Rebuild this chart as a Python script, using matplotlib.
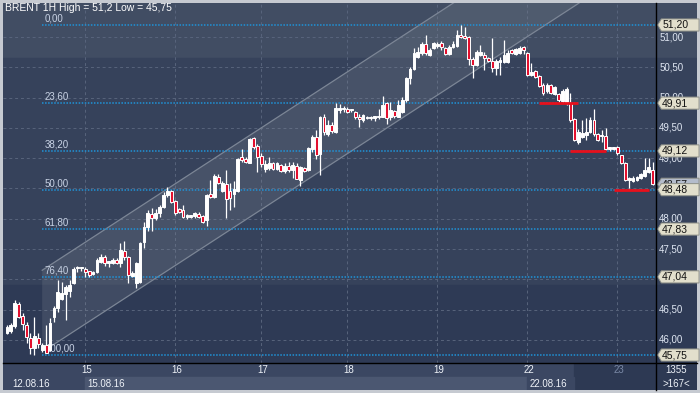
import matplotlib
matplotlib.use("Agg")
import matplotlib.pyplot as plt
from matplotlib.patches import Rectangle, Polygon
from matplotlib.lines import Line2D

plt.rcParams['font.family'] = ['Liberation Sans', 'DejaVu Sans']

# hourly BRENT bars, 12.08.16 - 23.08.16
opens = [46.12, 46.15, 46.23, 46.59, 46.39, 46.25, 46.03, 45.87, 46.03, 45.84, 45.92, 45.84,
         46.38, 46.53, 46.68, 46.76, 46.81, 46.94, 47.18, 47.18, 47.17, 47.13, 47.09, 47.12,
         47.29, 47.37, 47.27, 47.27, 47.32, 47.27, 47.47, 47.37, 47.05,
         46.94, 46.95, 47.62, 47.87, 48.08, 48.02, 48.09, 48.19, 48.39, 48.46, 48.29, 48.16,
         48.14, 48.03, 48.03, 48.04, 48.08, 48.04, 47.98, 48.41, 48.36, 48.69, 48.46, 48.57,
         48.46, 48.41, 48.46, 49.02, 48.99, 48.92, 49.33, 49.20, 49.04,
         48.82, 48.84, 48.92, 48.82, 48.89, 48.79, 48.87, 48.81, 48.87, 48.64, 48.84, 48.81,
         49.15, 49.35, 49.07, 49.68, 49.40, 49.55, 49.43, 49.80, 49.81, 49.82, 49.79, 49.76,
         49.68, 49.63, 49.66, 49.66, 49.67, 49.68, 49.68, 49.91, 49.68, 49.78,
         49.68, 49.76, 49.96, 50.32, 50.47, 50.67, 50.74, 50.89, 50.70, 50.82, 50.86, 50.90,
         50.82, 50.72, 50.84, 50.85, 51.03, 51.02, 51.00, 50.64, 50.54, 50.70, 50.70, 50.65,
         50.60, 50.49, 50.59, 50.59, 50.59, 50.79, 50.72, 50.74, 50.84,
         50.74, 50.37, 50.44, 50.36, 50.21, 50.11, 50.21, 50.06, 50.06, 49.94, 49.91, 49.91,
         49.65, 49.27, 49.35, 49.38, 49.43, 49.63, 49.40, 49.36, 49.37, 49.16, 49.16, 49.19,
         49.05, 48.92, 48.64, 48.63, 48.64, 48.67, 48.71, 48.77, 48.81]
highs = [46.25, 46.28, 46.66, 46.62, 46.44, 46.30, 46.11, 46.38, 46.11, 45.95, 46.25, 46.36,
         46.56, 46.99, 46.96, 46.91, 46.99, 47.20, 47.22, 47.21, 47.20, 47.14, 47.14, 47.35,
         47.42, 47.40, 47.31, 47.35, 47.35, 47.60, 47.63, 47.38, 47.13,
         47.29, 47.62, 47.95, 48.14, 48.18, 48.16, 48.23, 48.44, 48.52, 48.48, 48.31, 48.18,
         48.23, 48.08, 48.06, 48.11, 48.11, 48.06, 48.41, 48.64, 48.74, 48.74, 48.62, 48.81,
         48.59, 48.62, 49.00, 49.15, 49.02, 49.33, 49.35, 49.23, 49.09,
         48.97, 49.02, 48.94, 48.94, 48.91, 48.92, 48.94, 48.94, 48.92, 48.87, 48.86, 49.19,
         49.38, 49.47, 49.69, 49.73, 49.63, 49.60, 49.91, 49.90, 49.86, 49.84, 49.82, 49.78,
         49.73, 49.73, 49.69, 49.70, 49.70, 49.81, 50.03, 49.93, 49.93, 49.80,
         49.96, 50.01, 50.34, 50.51, 50.82, 50.84, 50.92, 51.03, 50.82, 50.92, 50.92, 50.94,
         50.84, 50.87, 50.94, 51.12, 51.20, 51.17, 51.01, 50.67, 50.79, 50.87, 50.75, 50.67,
         50.99, 50.64, 50.67, 50.95, 50.79, 50.81, 50.82, 50.85, 50.85,
         50.75, 50.57, 50.46, 50.37, 50.24, 50.24, 50.23, 50.19, 50.08, 50.14, 50.18, 50.08,
         49.66, 49.48, 49.63, 49.66, 49.68, 49.81, 49.42, 49.47, 49.50, 49.18, 49.19, 49.20,
         49.06, 48.93, 48.69, 48.70, 48.71, 48.76, 49.00, 49.00, 48.94]
lows = [46.09, 46.12, 46.20, 46.36, 46.16, 45.95, 45.77, 45.75, 45.87, 45.80, 45.78, 45.81,
        46.30, 46.46, 46.66, 46.33, 46.71, 46.92, 47.12, 47.14, 47.04, 47.04, 47.07, 47.10,
        47.27, 47.22, 47.20, 47.25, 47.25, 47.20, 47.32, 46.94, 47.03,
        46.86, 46.94, 47.52, 47.80, 47.80, 47.98, 48.03, 48.17, 48.36, 48.26, 48.06, 48.09,
        48.01, 47.99, 48.01, 48.02, 48.01, 47.93, 47.88, 48.34, 48.34, 48.57, 48.44, 48.01,
        48.14, 48.19, 48.44, 48.94, 48.92, 48.92, 49.15, 48.77, 48.85,
        48.77, 48.81, 48.80, 48.81, 48.77, 48.76, 48.77, 48.67, 48.65, 48.54, 48.77, 48.79,
        49.10, 48.99, 48.72, 49.38, 49.37, 49.42, 49.42, 49.75, 49.76, 49.75, 49.77, 49.65,
        49.52, 49.60, 49.64, 49.63, 49.61, 49.65, 49.68, 49.56, 49.63, 49.66,
        49.68, 49.75, 49.93, 50.22, 50.46, 50.66, 50.70, 50.70, 50.69, 50.80, 50.82, 50.79,
        50.70, 50.70, 50.82, 50.84, 50.99, 50.97, 50.54, 50.32, 50.52, 50.69, 50.46, 50.59,
        50.42, 50.37, 50.37, 50.58, 50.57, 50.72, 50.70, 50.72, 50.72,
        50.36, 50.36, 50.32, 50.18, 50.04, 50.08, 50.06, 50.04, 49.93, 49.91, 49.88, 49.60,
        49.28, 49.23, 49.33, 49.30, 49.42, 49.37, 49.28, 49.27, 49.14, 49.12, 49.14, 49.05,
        48.91, 48.62, 48.51, 48.61, 48.62, 48.65, 48.69, 48.75, 48.56]
closes = [46.22, 46.25, 46.61, 46.38, 46.26, 46.05, 45.87, 46.07, 45.93, 45.92, 45.79, 46.28,
          46.53, 46.79, 46.77, 46.87, 46.91, 47.17, 47.19, 47.19, 47.12, 47.07, 47.12, 47.32,
          47.37, 47.27, 47.28, 47.32, 47.27, 47.48, 47.37, 47.07, 47.10,
          47.27, 47.60, 47.87, 48.09, 48.01, 48.09, 48.19, 48.39, 48.46, 48.28, 48.09, 48.11,
          48.03, 48.04, 48.04, 48.09, 48.03, 47.95, 48.39, 48.36, 48.71, 48.59, 48.59, 48.33,
          48.34, 48.49, 48.99, 48.97, 48.94, 49.32, 49.18, 49.02, 48.90,
          48.90, 48.92, 48.82, 48.92, 48.79, 48.87, 48.81, 48.89, 48.66, 48.86, 48.79, 49.17,
          49.35, 49.05, 49.68, 49.43, 49.55, 49.45, 49.83, 49.83, 49.83, 49.77, 49.80, 49.68,
          49.65, 49.71, 49.67, 49.67, 49.68, 49.70, 49.88, 49.66, 49.80, 49.70,
          49.88, 49.96, 50.32, 50.47, 50.74, 50.75, 50.89, 50.74, 50.79, 50.90, 50.87, 50.84,
          50.72, 50.84, 50.89, 51.03, 51.00, 50.99, 50.64, 50.54, 50.75, 50.75, 50.65, 50.60,
          50.49, 50.60, 50.60, 50.70, 50.74, 50.74, 50.80, 50.82, 50.79,
          50.37, 50.42, 50.34, 50.19, 50.08, 50.21, 50.08, 50.18, 49.96, 50.11, 50.14, 49.63,
          49.30, 49.43, 49.42, 49.43, 49.63, 49.40, 49.30, 49.37, 49.15, 49.17, 49.17, 49.09,
          48.92, 48.64, 48.67, 48.67, 48.69, 48.74, 48.81, 48.86, 48.57]

day_starts = [20, 43, 65, 87, 110, 133, 156]
day_labels = ['15', '16', '17', '18', '19', '22', '23']
date_labels = ['12.08.16', '15.08.16', '22.08.16']

price_ticks = [46.0, 46.5, 47.0, 47.5, 48.0, 48.5, 49.0, 49.5, 50.0, 50.5, 51.0]

fib_labels = ['0,00', '23,60', '38,20', '50,00', '61,80', '76,40', '100,00']
fib_prices = [51.20, 49.91, 49.12, 48.48, 47.83, 47.04, 45.75]
fib_start = 9

# parallel channel: start bar, upper/lower price at start, rise per bar
chan_start = 9
chan_upper = 47.15
chan_lower = 45.80
chan_slope = 0.042

support_levels = [49.91, 49.12, 48.48]
support_from = [136, 144, 155]
support_to = [146, 153, 164]

last_price = 48.57

BG_TOP = '#414d63'
BG_MID = '#36425b'
BG_LOW = '#2e3a55'

fig = plt.figure(figsize=(7, 3.93), dpi=100, facecolor='#c6cad1')
W, H = 700.0, 393.0

def fx(px):
    return px / W

def fy(py):
    return 1 - py / H

def fmt(p):
    return ('%.2f' % p).replace('.', ',')

xmin, xmax = -1.02, 165.86
ymin, ymax = 45.618, 51.563

ax = fig.add_axes([fx(3), fy(363), fx(653), 360 / H])
ax.set_xlim(xmin, xmax)
ax.set_ylim(ymin, ymax)
ax.axis('off')

axr = fig.add_axes([fx(656), fy(363), fx(41), 360 / H])
axr.set_xlim(0, 1)
axr.set_ylim(ymin, ymax)
axr.axis('off')

for a in (ax, axr):
    a.add_patch(Rectangle((0, 0.847), 1, 0.153, transform=a.transAxes, color=BG_TOP, zorder=0))
    a.add_patch(Rectangle((0, 0.217), 1, 0.63, transform=a.transAxes, color=BG_MID, zorder=0))
    a.add_patch(Rectangle((0, 0), 1, 0.217, transform=a.transAxes, color=BG_LOW, zorder=0))

# grid
ax.hlines(price_ticks, xmin, xmax, colors='#58647c', linestyles=(0, (3, 3)), lw=0.7, zorder=1)
ax.vlines(day_starts, ymin, ymax, colors='#58647c', linestyles=(0, (3, 3)), lw=0.7, zorder=1)

# channel
x_end = 175
u_end = chan_upper + chan_slope * (x_end - chan_start)
l_end = chan_lower + chan_slope * (x_end - chan_start)
ax.add_patch(Polygon([(chan_start, chan_upper), (x_end, u_end), (x_end, l_end), (chan_start, chan_lower)],
                     closed=True, facecolor='#8c949e', alpha=0.2, edgecolor='none', zorder=2))
ax.plot([chan_start, x_end], [chan_upper, u_end], color='#7c8696', lw=0.9, zorder=2)
ax.plot([chan_start + 1, x_end], [chan_lower + chan_slope, l_end], color='#7c8696', lw=0.9, zorder=2)

# fibonacci levels
ax.hlines(fib_prices, fib_start, xmax, colors='#1f93d8', linestyles=(0, (1, 1)), lw=1.1, zorder=3)
for lab, p in zip(fib_labels, fib_prices):
    ax.text(fib_start + 0.7, p + 0.025, lab, color='#c8d2e4', fontsize=7, va='bottom', ha='left', zorder=3)

# candles
xs = list(range(len(opens)))
bottoms = [min(o, c) for o, c in zip(opens, closes)]
heights = [max(abs(c - o), 0.025) for o, c in zip(opens, closes)]
colors = ['white' if c >= o else '#e3102e' for o, c in zip(opens, closes)]
ax.vlines(xs, lows, highs, colors='white', lw=0.9, zorder=4)
ax.bar(xs, heights, bottom=bottoms, width=0.72, color=colors, edgecolor='white', lw=0.7, zorder=5)

# support marks
ax.hlines(support_levels, support_from, support_to, colors='#e8101c', lw=2.0, zorder=6)

# right price scale (labels that sit fully under a tag are not visible)
tag_prices = fib_prices + [last_price]
for p in price_ticks:
    if min(abs(p - t) for t in tag_prices) < 0.05:
        continue
    axr.text(0.08, p, fmt(p), color='#dfe6f2', fontsize=7, va='center', ha='left', zorder=2)

hh = 0.1

def tag(p, face, z):
    pts = [(0.04, p), (0.13, p + hh), (1.05, p + hh), (1.05, p - hh), (0.13, p - hh)]
    axr.add_patch(Polygon(pts, closed=True, facecolor=face, edgecolor='#8e9088', lw=0.7,
                          zorder=z, clip_on=False))
    axr.text(0.15, p, fmt(p), color='#111111', fontsize=7.5, va='center', ha='left', zorder=z + 0.5)

tag(last_price, '#b4bccb', 3)
for i, p in enumerate(fib_prices):
    tag(p, '#e2dfcc', 4 + i)

# time scale
axt = fig.add_axes([fx(3), fy(390), fx(694), 27 / H])
px_per_bar = 653.0 / (xmax - xmin)
right_end = xmin + 694.0 / px_per_bar
axt.set_xlim(xmin, right_end)
axt.set_ylim(0, 1)
axt.axis('off')
session_end = 145
C_MED, C_LIGHT, C_DARK = '#3b4762', '#4b5771', '#2d3953'
axt.add_patch(Rectangle((xmin, 0.5), session_end - xmin, 0.5, color=C_MED, zorder=0))
axt.add_patch(Rectangle((session_end, 0), right_end - session_end, 1, color=C_DARK, zorder=0))
axt.add_patch(Rectangle((xmin, 0), day_starts[0] - xmin, 0.5, color=C_MED, zorder=0))
axt.add_patch(Rectangle((day_starts[0], 0), day_starts[5] - day_starts[0], 0.5, color=C_LIGHT, zorder=0))
axt.add_patch(Rectangle((day_starts[5], 0), session_end - day_starts[5], 0.5, color=C_MED, zorder=0))

for d, lab in zip(day_starts, day_labels):
    col = '#7a89a6' if lab == '23' else '#eef2f8'
    axt.text(d + 0.3, 0.74, lab, color=col, fontsize=7, ha='center', va='center')
for x, lab in zip([1.3, day_starts[0] + 0.5, day_starts[5] + 0.6], date_labels):
    axt.text(x, 0.24, lab, color='#eef2f8', fontsize=7, ha='left', va='center')
axt.text(xmax + (right_end - xmax) / 2, 0.74, '1355', color='#eef2f8', fontsize=7, ha='center', va='center')
axt.text(xmax + (right_end - xmax) / 2, 0.24, '>167<', color='#eef2f8', fontsize=7, ha='center', va='center')

# separators
fig.add_artist(Line2D([fx(656), fx(656)], [fy(3), fy(390)], color='black', lw=1.0))
fig.add_artist(Line2D([fx(3), fx(697)], [fy(363), fy(363)], color='black', lw=1.0))

fig.text(fx(5), fy(8), 'BRENT 1H High = 51,2 Low = 45,75', color='white', fontsize=7.5, va='center', ha='left')

fig.savefig('out.png', dpi=100, facecolor=fig.get_facecolor())
